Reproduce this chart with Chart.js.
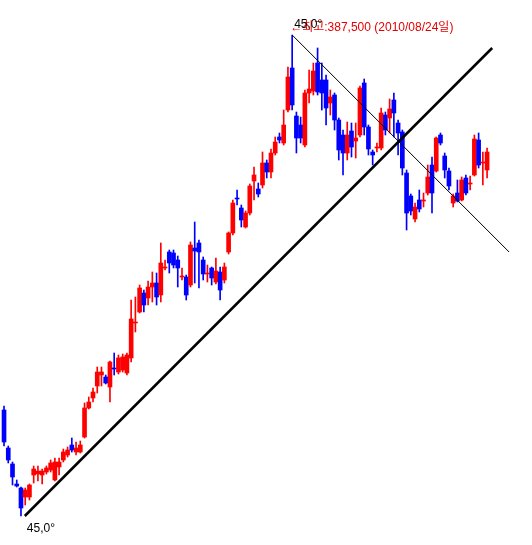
<!DOCTYPE html>
<html>
<head>
<meta charset="utf-8">
<script src="https://cdn.jsdelivr.net/npm/chart.js@4.4.1/dist/chart.umd.min.js"></script>
<style>
  html, body { margin: 0; padding: 0; background: #fff; overflow: hidden; }
</style>
</head>
<body>
<canvas id="chart" width="532" height="545"></canvas>
<script>
// daily candles, oldest first (prices in won)
const opens = [200000,181000,173000,163000,161000,156500,156500,167500,168000,167500,
  169000,170000,165000,171500,175000,177500,182500,179000,179000,186500,
  201000,206000,212000,217500,216500,211500,221000,219000,220000,218500,
  226000,243500,249000,258500,256000,261500,263500,257500,271000,279000,
  278500,275000,266500,266500,262500,281000,283500,275000,268000,271000,
  264000,269000,265000,279000,288500,306000,301000,291500,298500,314500,
  310500,312500,323500,319000,328500,336500,333500,350000,371000,347000,
  342500,332500,358500,359500,373500,365000,365000,353500,357500,345000,
  337500,328500,339500,334500,337500,363500,341500,329000,331000,331000,
  347500,346000,355000,343500,339000,318500,307000,295500,305000,304500,
  308500,322500,319500,337500,327000,319500,303500,308500,305000,316000,
  313000,317500,335000,323500,320000];
const highs = [202000,182000,174000,165000,161500,161000,163000,172000,172000,170500,
  172000,175000,176000,176000,180500,181500,186000,184000,184500,203500,
  206500,211000,221500,221500,217500,224500,228500,227500,228000,228500,
  255000,256500,262500,260000,264500,269000,268500,283500,275000,280000,
  280000,277000,271000,267500,284000,294000,285000,276500,272500,271500,
  276000,271500,273500,289000,305000,310000,302500,299500,313000,321500,
  313500,329000,325000,330500,336500,338500,350000,371500,387500,349000,
  346500,360000,370000,373500,381000,373500,367500,360000,358500,346000,
  340000,344000,343500,343500,362000,365500,342500,330000,333500,351000,
  349000,355500,358500,345000,340000,320000,308000,303500,310000,308500,
  322500,326500,336500,338500,328500,321000,308000,315000,316500,317500,
  317000,337500,338500,329000,331000];
const lows = [182000,173500,162500,161500,147000,152500,155000,163500,164500,163000,
  168000,169000,164500,167500,174000,176500,179000,177500,178500,186000,
  200500,204000,208500,212000,213000,204000,217500,218000,219000,217500,
  224000,239000,248500,249000,252500,254000,252500,254000,270000,268500,
  271000,261500,265000,255000,261500,263500,261000,265000,264000,262500,
  263000,255000,263500,278000,287500,302500,291500,291000,297500,305000,
  306500,311000,316000,316000,327500,333500,332500,349000,350000,328500,
  333500,331500,353500,357500,357500,350000,342500,347500,340000,325000,
  317500,325000,326500,326000,336500,337500,327500,322500,329000,330000,
  337500,338500,336500,327500,317500,290000,297500,294000,299000,301500,
  307500,298500,319000,332500,316000,310000,301500,304000,304500,307500,
  310000,317000,321000,312500,316000];
const closes = [184000,175000,166500,162000,151000,160000,162500,170500,169500,169500,
  171000,173500,174000,174000,179000,180000,180000,181000,182500,201000,
  204000,209000,219000,219000,213500,224000,220500,226000,226500,227500,
  245500,244000,261000,252500,261500,263500,256500,273500,271500,273500,
  272500,271000,267000,257500,282500,279500,279000,268000,268500,266000,
  269500,260000,271500,288500,303500,305500,295000,298500,312000,317500,
  308000,323500,319000,328500,334000,335000,342500,366500,352500,336000,
  336000,358500,360500,369500,359000,358500,351000,356500,345000,330000,
  328500,337500,331500,336000,361000,341500,330500,327500,331500,348500,
  340000,350500,348500,338500,321000,298500,299500,301500,300500,305000,
  316500,308500,336000,333500,320000,312000,307000,304500,315000,308500,
  313500,335500,322500,324000,329000];

// trend lines drawn on the chart: [candle index, price]
const upLineX = [4.9, 115.2];
const upLineY = [147000, 381000];
const downLineX = [68, 119.2];
const downLineY = [387500, 279000];

const peakIndex = 68;
const peakPrice = 387500;
const peakLabel = '←최고:387,500 (2010/08/24일)';
const angleLabel = '45,0°';

const UP = '#ff0000';
const DOWN = '#0000ff';

const candleColors = closes.map((c, i) => c >= opens[i] ? UP : DOWN);
const wickData = highs.map((h, i) => ({ x: i, y: [lows[i], h] }));
const bodyData = opens.map((o, i) => ({ x: i, y: [o, closes[i]] }));

const labelPlugin = {
  id: 'labels',
  afterDatasetsDraw(chart) {
    const ctx = chart.ctx;
    const xs = chart.scales.x, ys = chart.scales.y;
    ctx.save();
    ctx.textBaseline = 'alphabetic';
    ctx.textAlign = 'left';
    ctx.font = '12px "Liberation Sans", "Noto Sans CJK KR", sans-serif';

    // label at the high
    const px = xs.getPixelForValue(peakIndex);
    const py = ys.getPixelForValue(peakPrice);
    ctx.fillStyle = '#e60000';
    ctx.fillText(peakLabel, px - 2, py - 4);
    ctx.fillStyle = '#000';
    ctx.fillText(angleLabel, px + 2, py - 7);

    // angle label under the start of the rising line
    const sx = xs.getPixelForValue(upLineX[0]);
    const sy = ys.getPixelForValue(upLineY[0]);
    ctx.fillText(angleLabel, sx + 2, sy + 16);
    ctx.restore();
  }
};

new Chart(document.getElementById('chart'), {
  type: 'bar',
  data: {
    datasets: [
      {
        type: 'line',
        data: upLineX.map((x, i) => ({ x, y: upLineY[i] })),
        borderColor: '#000',
        borderWidth: 2.5,
        pointRadius: 0,
        order: 0
      },
      {
        type: 'line',
        data: downLineX.map((x, i) => ({ x, y: downLineY[i] })),
        borderColor: '#000',
        borderWidth: 1,
        pointRadius: 0,
        order: 0
      },
      {
        data: wickData,
        backgroundColor: candleColors,
        barThickness: 1,
        grouped: false,
        order: 2
      },
      {
        data: bodyData,
        backgroundColor: candleColors,
        barThickness: 4,
        minBarLength: 1,
        grouped: false,
        order: 1
      }
    ]
  },
  options: {
    responsive: false,
    animation: false,
    layout: { padding: 0 },
    plugins: {
      legend: { display: false },
      tooltip: { enabled: false }
    },
    scales: {
      x: { type: 'linear', min: -0.95, max: 124.6, offset: false, display: false },
      y: { min: 132500, max: 405000, display: false }
    }
  },
  plugins: [labelPlugin]
});
</script>
</body>
</html>
